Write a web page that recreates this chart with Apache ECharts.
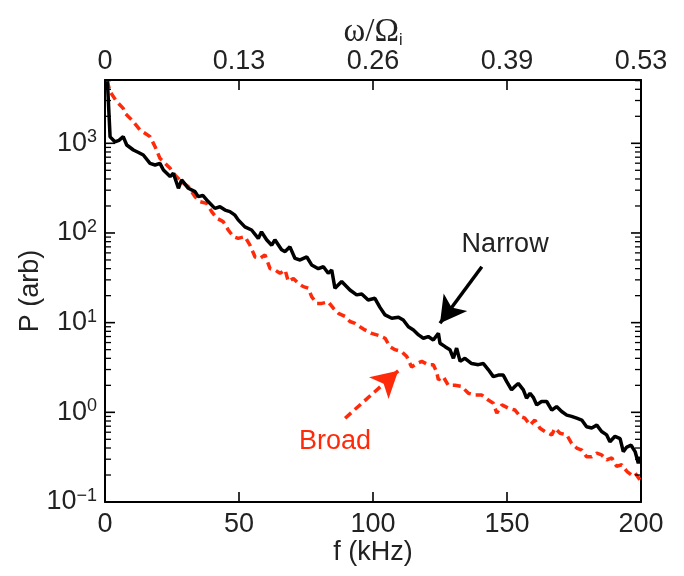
<!DOCTYPE html>
<html>
<head>
<meta charset="utf-8">
<script src="https://cdn.jsdelivr.net/npm/echarts@6/dist/echarts.min.js"></script>
<style>html,body{margin:0;padding:0;background:#fff}#c{width:684px;height:576px}</style>
</head>
<body>
<div id="c"></div>
<script>
// ---- data ----
const xTicks = [0, 50, 100, 150, 200];
const topTickLabels = ['0', '0.13', '0.26', '0.39', '0.53'];
const yMajorTicks = [0.1, 1, 10, 100, 1000];

const narrowF = [0.9,1.9,3.7,5.2,6.8,8.1,10.6,12.5,14.3,16.8,18.7,20.5,21.8,24.3,25.5,27.4,28.6,31.1,33.6,34.8,36.5,38.5,41.0,42.9,44.8,46.6,48.5,49.7,52.2,54.7,57.2,58.4,60.3,62.2,63.4,65.9,67.2,69.0,70.9,72.8,75.3,77.1,79.6,81.5,83.3,84.6,85.8,88.3,91.4,93.9,95.8,98.2,100.7,102.6,104.5,107.0,109.5,111.3,113.2,115.1,117.0,118.8,120.6,122.5,124.4,125.0,126.9,128.7,130.0,131.2,132.5,134.3,136.8,139.3,141.2,143.0,144.9,146.8,148.6,149.9,151.7,153.0,154.2,156.1,157.3,158.6,159.8,161.1,162.9,164.8,166.7,168.5,170.4,172.3,174.1,176.0,177.9,179.7,181.6,183.5,185.3,187.2,188.4,190.3,192.2,193.4,194.7,196.3,197.8,199.0,199.6];
const narrowP = [4900,1180,1040,1080,1185,957,842,790,741,598,573,598,503,425,463,315,390,315,289,254,262,224,188,196,180,173,158,140,117,108,87,103,84,73,84,65,62,70,52,50,54,44,40,42,35.5,38.6,24.2,28.7,23.1,20.4,20.9,17.9,18.7,14.8,12.2,11.2,11.5,10.7,9.0,8.3,7.3,6.7,7.0,6.4,7.6,5.9,5.4,5.0,4.0,5.2,3.7,4.0,3.5,3.4,3.5,3.0,2.5,2.6,2.6,2.2,1.78,1.95,2.1,1.78,1.44,1.63,1.47,1.21,1.32,1.32,1.06,1.16,1.02,0.93,0.90,0.86,0.82,0.69,0.67,0.72,0.61,0.56,0.47,0.54,0.51,0.365,0.41,0.43,0.365,0.27,0.32];

const broadF = [0.8,1.9,4.4,6.8,7.5,10.0,13.1,16.8,18.7,20.5,22.4,24.3,26.1,28.6,31.1,33.6,35.4,37.9,39.8,41.7,44.1,46.0,47.9,49.7,52.2,54.1,56.0,57.8,59.7,61.6,63.4,65.3,67.2,68.4,70.3,72.1,74.0,75.9,77.1,79.0,80.9,83.3,85.2,87.1,89.6,91.4,93.3,95.1,97.0,99.5,102.0,104.5,106.3,108.2,110.7,112.6,114.4,116.3,118.2,120.6,122.5,123.7,124.4,126.2,128.1,130.6,133.1,135.6,138.1,140.6,143.0,144.9,146.2,148.1,150.6,153.0,154.9,156.7,158.6,160.4,162.3,164.2,166.7,167.9,169.8,172.3,174.1,176.0,177.9,179.7,181.6,183.5,185.3,187.2,189.1,190.9,192.8,194.7,196.5,197.8,199.6];
const broadP = [5000,3760,2910,2450,2160,1820,1407,1186,916,680,598,526,443,373,328,254,224,214,173,146,134,108,91,87,91,73,54,52,57,40,38.7,35.5,38.7,28.7,31,27.5,25.2,24.2,19.5,16.4,16.4,17.1,14.5,12.7,11.7,10.3,9.8,9.0,8.3,7.6,7.2,6.7,5.4,5.0,4.75,4.2,3.2,3.5,3.7,3.4,3.4,2.85,2.3,2.5,2.0,2.0,1.94,1.63,1.56,1.56,1.37,1.26,0.98,1.21,1.11,1.06,0.90,0.86,0.72,0.82,0.665,0.61,0.56,0.665,0.585,0.56,0.45,0.40,0.38,0.32,0.32,0.35,0.335,0.295,0.31,0.25,0.26,0.22,0.20,0.21,0.176];

const xMin = 0, xMax = 200;
const yMin = 0.1, yMax = 5080;
const minorTicks = [];
for (let d = -1; d <= 3; d++) for (let m = 2; m <= 9; m++) { const v = m * Math.pow(10, d); if (v < yMax) minorTicks.push(+v.toPrecision(3)); }

// annotations (data coords)
const narrowArrow = [[140.6, 42], [125.0, 9.85]];
const broadArrow = [[89.6, 0.86], [109.4, 2.9]];
const narrowLabelAt = [149.3, 74];
const broadLabelAt = [85.8, 0.47];

// ---- chart ----
const FONT = 'Liberation Sans, Arial, Helvetica, sans-serif';
const RED = '#ff2a0a';
const chart = echarts.init(document.getElementById('c'), null, {renderer: 'canvas'});
const zip = (a, b) => a.map((v, i) => [v, b[i]]);
const sup = v => {
  const e = Math.round(Math.log10(v));
  if (Math.abs(Math.log10(v) - e) > 1e-6) return '';
  return '{b|10}{e|' + (e < 0 ? '\u2212' + (-e) : e) + '}';
};
const grid = {left: 105, right: 43, top: 80, bottom: 74};
const axLine = () => ({show: true, onZero: false, lineStyle: {color: '#000', width: 2}});

// tick marks drawn as thin rectangle symbols anchored on axis values
function tickSeries(points, size, offset) {
  return {
    type: 'scatter', xAxisIndex: 0, yAxisIndex: 0, silent: true, clip: false, z: 6,
    symbol: 'rect', symbolSize: size, symbolOffset: offset,
    itemStyle: {color: '#000', opacity: 1},
    emphasis: {disabled: true},
    data: points
  };
}

chart.setOption({
  animation: false,
  backgroundColor: '#fff',
  grid: grid,
  xAxis: [
    {
      type: 'value', position: 'bottom', min: xMin, max: xMax, interval: 50,
      name: 'f (kHz)', nameLocation: 'middle', nameGap: 37, nameMoveOverlap: false,
      nameTextStyle: {fontFamily: FONT, fontSize: 27, color: '#222'},
      axisLine: axLine(), axisTick: {show: false},
      axisLabel: {fontFamily: FONT, fontSize: 27, color: '#222', margin: 9},
      splitLine: {show: false}
    },
    {
      type: 'value', position: 'top', min: xMin, max: xMax, interval: 50,
      name: '\u03c9/\u03a9{i|i}', nameLocation: 'middle', nameGap: 31, nameMoveOverlap: false,
      nameTextStyle: {fontFamily: 'Liberation Serif, Times New Roman, serif', fontSize: 33, color: '#222', rich: {
        i: {fontFamily: FONT, fontSize: 16, color: '#222', verticalAlign: 'bottom', padding: [14, 0, 0, 0]}
      }},
      axisLine: axLine(), axisTick: {show: false},
      axisLabel: {fontFamily: FONT, fontSize: 27, color: '#222', margin: 5,
        formatter: v => topTickLabels[xTicks.indexOf(v)]},
      splitLine: {show: false}
    }
  ],
  yAxis: [
    {
      type: 'log', position: 'left', min: yMin, max: yMax, logBase: 10,
      name: 'P (arb)', nameLocation: 'middle', nameGap: 61, nameMoveOverlap: false,
      nameTextStyle: {fontFamily: FONT, fontSize: 27, color: '#222'},
      axisLine: axLine(), axisTick: {show: false},
      axisLabel: {customValues: yMajorTicks, formatter: sup, margin: 8, rich: {
        b: {fontFamily: FONT, fontSize: 27, color: '#222', lineHeight: 30},
        e: {fontFamily: FONT, fontSize: 18, color: '#222', verticalAlign: 'top', lineHeight: 18}
      }},
      splitLine: {show: false}
    },
    {
      type: 'log', position: 'right', min: yMin, max: yMax, logBase: 10,
      axisLine: axLine(), axisTick: {show: false},
      axisLabel: {show: false}, splitLine: {show: false}
    }
  ],
  series: [
    {
      name: 'Broad', type: 'line', xAxisIndex: 0, yAxisIndex: 0,
      data: zip(broadF, broadP), showSymbol: false, symbol: 'none',
      lineStyle: {color: RED, width: 3.5, type: [8, 5]},
      markLine: {
        silent: true, symbol: ['none', 'arrow'], symbolSize: [22, 26], label: {show: false},
        lineStyle: {color: RED, width: 3.5, type: [8, 5]},
        data: [[{coord: broadArrow[0]}, {coord: broadArrow[1]}]]
      },
      markPoint: {
        silent: true, symbol: 'circle', symbolSize: 1, itemStyle: {color: 'rgba(0,0,0,0)'},
        label: {show: true, position: 'inside', formatter: 'Broad', fontFamily: FONT, fontSize: 27, color: RED},
        data: [{coord: broadLabelAt}]
      }
    },
    {
      name: 'Narrow', type: 'line', xAxisIndex: 0, yAxisIndex: 0,
      data: zip(narrowF, narrowP), showSymbol: false, symbol: 'none',
      lineStyle: {color: '#000', width: 3.5},
      markLine: {
        silent: true, symbol: ['none', 'arrow'], symbolSize: [22, 26], label: {show: false},
        lineStyle: {color: '#000', width: 3.5, type: 'solid'},
        data: [[{coord: narrowArrow[0]}, {coord: narrowArrow[1]}]]
      },
      markPoint: {
        silent: true, symbol: 'circle', symbolSize: 1, itemStyle: {color: 'rgba(0,0,0,0)'},
        label: {show: true, position: 'inside', formatter: 'Narrow', fontFamily: FONT, fontSize: 27, color: '#222'},
        data: [{coord: narrowLabelAt}]
      }
    },
    tickSeries(xTicks.map(v => [v, yMin]), [1.6, 10], [0, -5]),
    tickSeries(xTicks.map(v => [v, yMax]), [1.6, 10], [0, 5]),
    tickSeries(yMajorTicks.map(v => [xMin, v]), [10, 1.6], [5, 0]),
    tickSeries(yMajorTicks.map(v => [xMax, v]), [10, 1.6], [-5, 0]),
    tickSeries(minorTicks.map(v => [xMin, v]), [6, 1.3], [3, 0]),
    tickSeries(minorTicks.map(v => [xMax, v]), [6, 1.3], [-3, 0])
  ]
});
</script>
</body>
</html>
